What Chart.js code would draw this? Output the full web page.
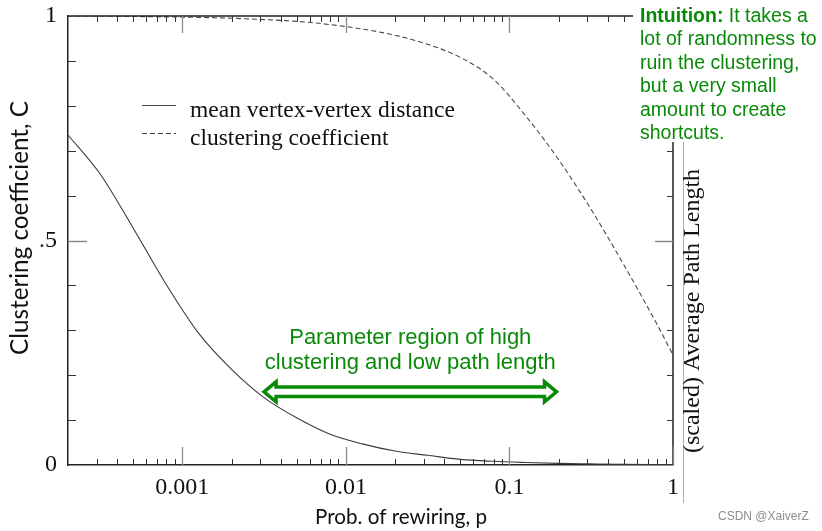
<!DOCTYPE html>
<html>
<head>
<meta charset="utf-8">
<script src="https://cdn.jsdelivr.net/npm/chart.js@4.4.0/dist/chart.umd.min.js"></script>
<style>
  html, body { margin: 0; padding: 0; background: #fff; }
  canvas { display: block; }
</style>
</head>
<body>
<canvas id="c" width="822" height="531"></canvas>
<script>
// ---- data ----
const pValues      = [0.0002, 0.000316, 0.0005, 0.000794, 0.00126, 0.002, 0.00316, 0.005, 0.00794, 0.0126, 0.02, 0.0316, 0.05, 0.0794, 0.126, 0.2, 0.316, 0.5, 0.794, 1];
const meanDistance = [0.735, 0.647, 0.528, 0.403, 0.293, 0.213, 0.150, 0.105, 0.069, 0.047, 0.031, 0.0216, 0.0125, 0.0082, 0.0056, 0.0036, 0.0025, 0.0015, 0.0008, 0.0005];
const clustering   = [1.0, 1.0, 0.999, 0.998, 0.997, 0.995, 0.992, 0.988, 0.981, 0.971, 0.957, 0.937, 0.908, 0.860, 0.777, 0.680, 0.569, 0.446, 0.315, 0.245];
const seriesLabels = ['mean vertex-vertex distance', 'clustering coefficient'];
const xTickValues  = [0.001, 0.01, 0.1, 1];
const xTickLabels  = ['0.001', '0.01', '0.1', '1'];
const yTickValues  = [0, 0.5, 1];
const yTickLabels  = ['0', '.5', '1'];
const xTitle = 'Prob. of rewiring, p';
const yTitle = 'Clustering coefficient, C';
const y2Title = '(scaled) Average Path Length';
const intuitionBold = 'Intuition:';
const intuitionLines = [' It takes a', 'lot of randomness to', 'ruin the clustering,', 'but a very small', 'amount to create', 'shortcuts.'];
const regionLines = ['Parameter region of high', 'clustering and low path length'];
const regionRange = [0.00316, 0.194];   // p-range of the double arrow
const regionLevel = 0.163;              // y-level of the double arrow
const watermark = 'CSDN @XaiverZ';

const GREEN = '#088a08';
const SERIF = '"Liberation Serif", "Times New Roman", serif';
const SANS = '"Liberation Sans", Arial, sans-serif';

function fitFont(ctx, text, family, target, base) {
  ctx.font = base + 'px ' + family;
  const w = ctx.measureText(text).width;
  return base * target / w;
}

const decor = {
  id: 'decor',
  afterDraw(chart) {
    const ctx = chart.ctx;
    const a = chart.chartArea;
    const xs = chart.scales.x, ys = chart.scales.y;
    ctx.save();

    // top and right frame
    ctx.strokeStyle = '#222';
    ctx.lineWidth = 1.5;
    ctx.beginPath();
    ctx.moveTo(a.left, a.top); ctx.lineTo(a.right, a.top);
    ctx.moveTo(a.right, a.top); ctx.lineTo(a.right, a.bottom);
    ctx.stroke();

    // inward log ticks on bottom and top
    for (let d = -4; d <= 0; d++) {
      for (let m = 1; m <= 9; m++) {
        const v = m * Math.pow(10, d);
        if (v <= xs.min * 1.0001 || v > xs.max * 1.0001) continue;
        const px = Math.round(xs.getPixelForValue(v)) + 0.5;
        const major = (m === 1);
        ctx.strokeStyle = major ? '#8a8a8a' : '#333';
        ctx.lineWidth = major ? 1.3 : 1;
        const len = major ? 18 : 6;
        ctx.beginPath();
        ctx.moveTo(px, a.bottom); ctx.lineTo(px, a.bottom - len);
        ctx.moveTo(px, a.top); ctx.lineTo(px, a.top + (major ? 17 : 6));
        ctx.stroke();
      }
    }
    // inward linear ticks on left and right
    for (let i = 1; i <= 9; i++) {
      const v = i / 10;
      const py = Math.round(ys.getPixelForValue(v)) + 0.5;
      const major = (i === 5);
      ctx.strokeStyle = major ? '#8a8a8a' : '#333';
      ctx.lineWidth = major ? 1.3 : 1;
      ctx.beginPath();
      ctx.moveTo(a.left, py); ctx.lineTo(a.left + (major ? 19 : 8), py);
      ctx.moveTo(a.right, py); ctx.lineTo(a.right - (major ? 18 : 6), py);
      ctx.stroke();
    }

    // legend
    const ds = chart.data.datasets;
    const legY = [105, 133];
    ds.forEach((d, i) => {
      ctx.strokeStyle = '#444';
      ctx.lineWidth = 1;
      ctx.setLineDash(d.borderDash || []);
      ctx.beginPath();
      ctx.moveTo(142, legY[i] + 0.5); ctx.lineTo(176, legY[i] + 0.5);
      ctx.stroke();
      ctx.setLineDash([]);
      ctx.fillStyle = '#111';
      ctx.font = '23.5px ' + SERIF;
      ctx.textAlign = 'left';
      ctx.textBaseline = 'alphabetic';
      ctx.fillText(d.label, 190, legY[i] + 12);
    });

    // double arrow
    const xl = xs.getPixelForValue(regionRange[0]);
    const xr = xs.getPixelForValue(regionRange[1]);
    const yc = ys.getPixelForValue(regionLevel);
    const hl = 12, hh = 10, bh = 4.8;
    ctx.beginPath();
    ctx.moveTo(xl, yc);
    ctx.lineTo(xl + hl, yc - hh);
    ctx.lineTo(xl + hl, yc - bh);
    ctx.lineTo(xr - hl, yc - bh);
    ctx.lineTo(xr - hl, yc - hh);
    ctx.lineTo(xr, yc);
    ctx.lineTo(xr - hl, yc + hh);
    ctx.lineTo(xr - hl, yc + bh);
    ctx.lineTo(xl + hl, yc + bh);
    ctx.lineTo(xl + hl, yc + hh);
    ctx.closePath();
    ctx.fillStyle = '#fff';
    ctx.fill();
    ctx.strokeStyle = GREEN;
    ctx.lineWidth = 3.5;
    ctx.lineJoin = 'miter';
    ctx.stroke();

    // region text
    ctx.fillStyle = GREEN;
    ctx.font = '22px ' + SANS;
    ctx.textAlign = 'center';
    ctx.textBaseline = 'middle';
    const cx = (xl + xr) / 2;
    ctx.fillText(regionLines[0], cx, 338);
    ctx.fillText(regionLines[1], cx, 363);

    // white box top right with intuition text
    ctx.fillStyle = '#fff';
    ctx.fillRect(633, 0, 822 - 633, 142);
    ctx.fillStyle = GREEN;
    ctx.textAlign = 'left';
    ctx.textBaseline = 'alphabetic';
    ctx.font = 'bold 19.5px ' + SANS;
    ctx.fillText(intuitionBold, 640, 22);
    const bw = ctx.measureText(intuitionBold).width;
    ctx.font = '19.5px ' + SANS;
    ctx.fillText(intuitionLines[0], 640 + bw, 22);
    for (let i = 1; i < intuitionLines.length; i++) {
      ctx.fillText(intuitionLines[i], 640, 22 + i * 23.4);
    }

    // gray separator line
    ctx.strokeStyle = '#b0b0b0';
    ctx.lineWidth = 1;
    ctx.beginPath();
    ctx.moveTo(683.5, 142); ctx.lineTo(683.5, 503);
    ctx.stroke();

    // right title (serif, rotated)
    ctx.save();
    ctx.translate(693, 311);
    ctx.rotate(-Math.PI / 2);
    ctx.fillStyle = '#111';
    ctx.font = '24px ' + SERIF;
    ctx.textAlign = 'center';
    ctx.textBaseline = 'middle';
    ctx.fillText(y2Title, 0, 0);
    ctx.restore();

    // left title
    ctx.save();
    ctx.translate(20, 228);
    ctx.rotate(-Math.PI / 2);
    ctx.fillStyle = '#111';
    const fy = fitFont(ctx, yTitle, 'Lato', 254, 20);
    ctx.font = fy + 'px Lato';
    ctx.textAlign = 'center';
    ctx.textBaseline = 'middle';
    ctx.fillText(yTitle, 0, 0);
    ctx.restore();

    // bottom title
    ctx.fillStyle = '#111';
    const fx = fitFont(ctx, xTitle, 'Lato', 172, 20);
    ctx.font = fx + 'px Lato';
    ctx.textAlign = 'center';
    ctx.textBaseline = 'middle';
    ctx.fillText(xTitle, 401, 517);

    // watermark
    ctx.fillStyle = '#8c8c8c';
    ctx.font = '12px ' + SANS;
    ctx.textAlign = 'left';
    ctx.fillText(watermark, 718, 517);

    ctx.restore();
  }
};

const ctx = document.getElementById('c').getContext('2d');
new Chart(ctx, {
  type: 'line',
  data: {
    datasets: [
      {
        label: seriesLabels[0],
        data: pValues.map((p, i) => ({ x: p, y: meanDistance[i] })),
        borderColor: '#3c3c3c', borderWidth: 1.1, pointRadius: 0,
        cubicInterpolationMode: 'monotone', fill: false
      },
      {
        label: seriesLabels[1],
        data: pValues.map((p, i) => ({ x: p, y: clustering[i] })),
        borderColor: '#4a4a4a', borderWidth: 1.1, pointRadius: 0,
        borderDash: [5, 3],
        cubicInterpolationMode: 'monotone', fill: false
      }
    ]
  },
  options: {
    responsive: false,
    animation: false,
    devicePixelRatio: 1,
    layout: { padding: { top: 16, right: 149, left: 0, bottom: 0 } },
    plugins: { legend: { display: false }, tooltip: { enabled: false } },
    scales: {
      x: {
        type: 'logarithmic', min: 0.0002, max: 1,
        afterBuildTicks: s => { s.ticks = xTickValues.map(v => ({ value: v })); },
        afterFit: s => { s.height = 66; s.paddingLeft = 0; s.paddingRight = 0; },
        ticks: {
          callback: (v, i) => xTickLabels[i],
          font: { family: SERIF, size: 24 }, color: '#111',
          padding: 8, maxRotation: 0, autoSkip: false
        },
        grid: { display: false, drawTicks: false },
        border: { display: true, color: '#222', width: 1.5 }
      },
      y: {
        type: 'linear', min: 0, max: 1,
        afterBuildTicks: s => { s.ticks = yTickValues.map(v => ({ value: v })); },
        afterFit: s => { s.width = 68; s.paddingTop = 0; s.paddingBottom = 0; },
        ticks: {
          callback: (v, i) => yTickLabels[i],
          font: { family: SERIF, size: 24 }, color: '#111',
          padding: 11, autoSkip: false
        },
        grid: { display: false, drawTicks: false },
        border: { display: true, color: '#222', width: 1.5 }
      }
    }
  },
  plugins: [decor]
});
</script>
</body>
</html>
